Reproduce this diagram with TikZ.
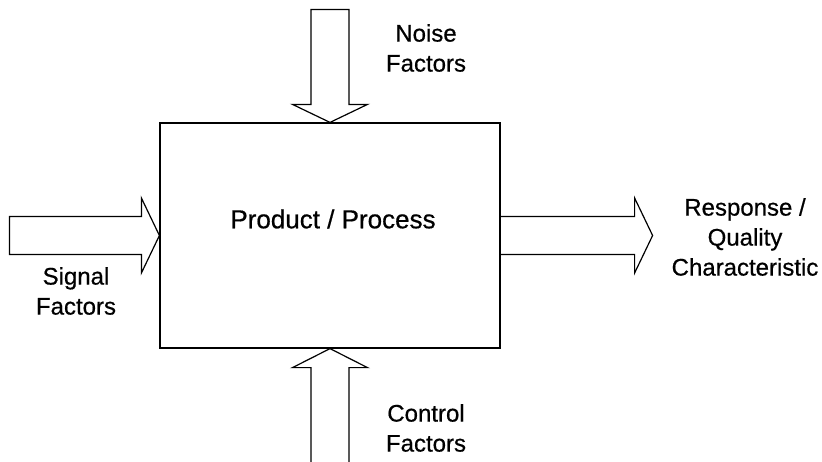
\documentclass[tikz,border=0pt]{standalone}
\usepackage{fontspec}
\setmainfont[FakeBold=0.6]{Liberation Sans}
\begin{document}
\begin{tikzpicture}[x=0.5pt, y=-0.5pt,
    blk/.style={draw, line width=0.6pt, line join=miter},
    lbl/.style={align=center, inner sep=0pt, font=\fontsize{12pt}{15pt}\selectfont}
  ]
  \useasboundingbox (0,0) rectangle (822,461);
  \node[blk, minimum width=170pt, minimum height=112.5pt] (proc) at (330,235.5) {};
  \node[lbl, font=\fontsize{13pt}{16pt}\selectfont] (proclbl) at (333,219) {Product / Process};
  % block arrows into and out of the box
  \draw[blk] (proc.west) -- ++(-18,-37.5) -- ++(0,18.5) -- ++(-132,0) -- ++(0,38) -- ++(132,0) -- ++(0,18.5) -- cycle;
  \draw[blk] (proc.north) -- ++(-37.5,-18) -- ++(18.5,0) -- ++(0,-95) -- ++(38,0) -- ++(0,95) -- ++(18.5,0) -- cycle;
  \draw[blk] (proc.south) -- ++(-37.5,19) -- ++(18.5,0) -- ++(0,120) -- ++(38,0) -- ++(0,-120) -- ++(18.5,0) -- cycle;
  \draw[blk] (proc.east) ++(0,-19) -- ++(134,0) -- ++(0,-18.5) -- ++(18,37.5) -- ++(-18,37.5) -- ++(0,-18.5) -- ++(-134,0);
  \node[lbl] (noise) at (426,48) {Noise\\Factors};
  \node[lbl] (signal) at (76,291) {Signal\\Factors};
  \node[lbl] (resp) at (745,237) {Response /\\Quality\\Characteristic};
  \node[lbl] (ctrl) at (426,428) {Control\\Factors};
\end{tikzpicture}
\end{document}
